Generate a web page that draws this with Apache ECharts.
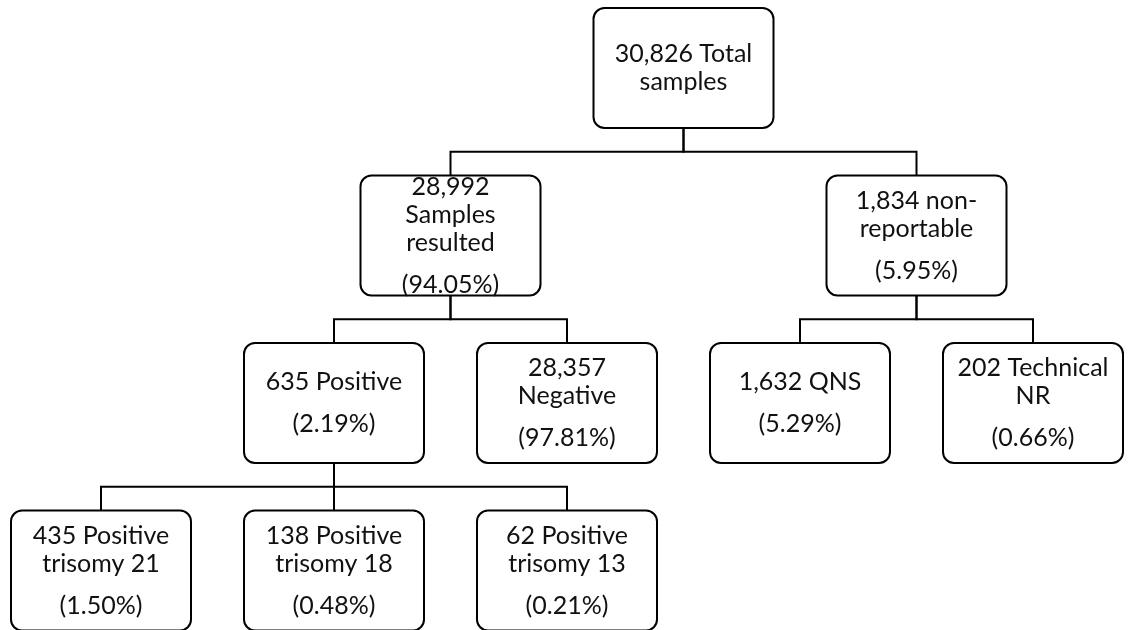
<!DOCTYPE html>
<html>
<head>
<meta charset="utf-8">
<title>Sample flow</title>
<script src="https://cdn.jsdelivr.net/npm/echarts@6/dist/echarts.min.js"></script>
<style>
html, body { margin: 0; padding: 0; background: #fff; }
#chart { width: 1129px; height: 630px; }
</style>
</head>
<body>
<div id="chart"></div>
<script>
// box texts
const nodeNames = ['30,826 Total\nsamples', '28,992\nSamples\nresulted', '1,834 non-\nreportable', '635 Positive', '28,357\nNegative', '1,632 QNS', '202 Technical\nNR', '435 Positive\ntrisomy 21', '138 Positive\ntrisomy 18', '62 Positive\ntrisomy 13'];
const nodePercents = ['', '(94.05%)', '(5.95%)', '(2.19%)', '(97.81%)', '(5.29%)', '(0.66%)', '(1.50%)', '(0.48%)', '(0.21%)'];
// tree structure
const nodeParents = [-1, 0, 0, 1, 1, 2, 2, 3, 3, 3];
const nodeLevels = [0, 1, 1, 2, 2, 2, 2, 3, 3, 3];
// slot order of the leaves, parents sit over the middle of their children
const leafSlots = { 4: 2, 5: 3, 6: 4, 7: 0, 8: 1, 9: 2 };

const BOX_W = 180;
const BOX_H = 120;

// parent column = middle of first and last child
const nodeColumns = nodeNames.map((n, i) => (leafSlots[i] !== undefined ? leafSlots[i] : null));
for (let i = nodeNames.length - 1; i >= 0; i--) {
  if (nodeColumns[i] === null) {
    const kids = nodeParents.map((p, k) => (p === i ? nodeColumns[k] : null)).filter(v => v !== null);
    nodeColumns[i] = (Math.min(...kids) + Math.max(...kids)) / 2;
  }
}

const nodeData = nodeNames.map((n, i) => [nodeColumns[i], nodeLevels[i], i]);
const edgeData = [];
nodeParents.forEach((p, i) => {
  if (p >= 0) edgeData.push([nodeColumns[p], nodeLevels[p], nodeColumns[i], nodeLevels[i]]);
});

function boxText(i) {
  let s = nodeNames[i].split('\n').map(l => '{t|' + l + '}').join('\n');
  if (nodePercents[i]) s += '\n{g| }\n{t|' + nodePercents[i] + '}';
  return s;
}

const chart = echarts.init(document.getElementById('chart'));
chart.setOption({
  animation: false,
  backgroundColor: '#fff',
  grid: { left: 101, right: 96, top: 68, bottom: 59.5 },
  xAxis: { type: 'value', min: 0, max: 4, show: false },
  yAxis: { type: 'value', min: 0, max: 3, inverse: true, show: false },
  series: [
    {
      // elbow connectors
      type: 'custom',
      data: edgeData,
      z: 1,
      renderItem: function (params, api) {
        const p = api.coord([api.value(0), api.value(1)]);
        const c = api.coord([api.value(2), api.value(3)]);
        const mid = api.coord([api.value(2), api.value(1) + 0.5]);
        return {
          type: 'polyline',
          shape: {
            points: [[p[0], p[1] + BOX_H / 2], [p[0], mid[1]], [c[0], mid[1]], [c[0], c[1] - BOX_H / 2]]
          },
          style: { stroke: '#000', lineWidth: 2, fill: null }
        };
      }
    },
    {
      // rounded boxes
      type: 'custom',
      data: nodeData,
      z: 2,
      renderItem: function (params, api) {
        const c = api.coord([api.value(0), api.value(1)]);
        const idx = api.value(2);
        return {
          type: 'group',
          children: [
            {
              type: 'rect',
              shape: { x: c[0] - BOX_W / 2, y: c[1] - BOX_H / 2, width: BOX_W, height: BOX_H, r: 11 },
              style: { fill: '#fff', stroke: '#000', lineWidth: 2 }
            },
            {
              type: 'text',
              x: c[0],
              y: c[1],
              style: {
                text: boxText(idx),
                align: 'center',
                verticalAlign: 'middle',
                rich: {
                  t: { fontSize: 25, lineHeight: 28, fontFamily: 'Lato', fill: '#111', align: 'center' },
                  g: { fontSize: 10, lineHeight: 14, fontFamily: 'Lato', align: 'center' }
                }
              }
            }
          ]
        };
      }
    }
  ]
});
</script>
</body>
</html>
